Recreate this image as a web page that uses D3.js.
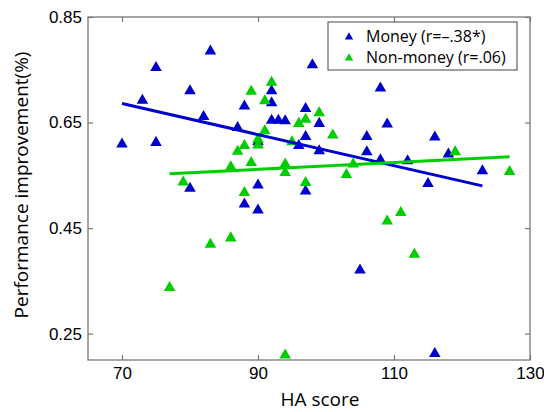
<!DOCTYPE html>
<html>
<head>
<meta charset="utf-8">
<script src="https://cdn.jsdelivr.net/npm/d3@7"></script>
<style>
  body { margin: 0; background: #fff; }
  svg { font-family: "Open Sans", sans-serif; }
</style>
</head>
<body>
<svg id="canvas" width="544" height="412"></svg>
<script>
// HA score and performance improvement
const moneyHA = [70, 73, 75, 75, 80, 80, 82, 83, 87, 88, 88, 90, 90, 90, 92, 92, 92, 93, 94, 96, 97, 97, 97, 98, 99, 99, 105, 106, 106, 108, 108, 109, 112, 115, 116, 116, 118, 123];
const moneyPerf = [0.611, 0.694, 0.756, 0.614, 0.712, 0.527, 0.663, 0.787, 0.642, 0.683, 0.497, 0.533, 0.486, 0.615, 0.712, 0.689, 0.656, 0.656, 0.655, 0.608, 0.678, 0.625, 0.522, 0.761, 0.650, 0.598, 0.372, 0.625, 0.596, 0.717, 0.581, 0.649, 0.579, 0.536, 0.624, 0.214, 0.592, 0.560];

const nonMoneyHA = [77, 79, 83, 86, 86, 87, 88, 88, 89, 89, 90, 90, 91, 91, 92, 94, 94, 94, 95, 96, 97, 97, 99, 101, 103, 104, 109, 111, 113, 119, 127];
const nonMoneyPerf = [0.339, 0.539, 0.421, 0.433, 0.568, 0.597, 0.608, 0.519, 0.711, 0.576, 0.620, 0.609, 0.693, 0.636, 0.728, 0.573, 0.557, 0.211, 0.615, 0.650, 0.658, 0.538, 0.670, 0.628, 0.553, 0.573, 0.465, 0.481, 0.402, 0.596, 0.559];

// fitted lines, end points
const moneyFit = [[70, 0.686], [123, 0.530]];
const nonMoneyFit = [[77, 0.553], [127, 0.585]];

const xTicks = [70, 90, 110, 130];
const yTicks = [0.25, 0.45, 0.65, 0.85];
const legendLabels = ["Money (r=\u2013.38*)", "Non-money (r=.06)"];

const blue = "#0000cc";
const green = "#00cc00";

let canvas = d3.select("#canvas");

let margin = { left: 88, right: 14, top: 17, bottom: 52 };
let width = 544 - margin.left - margin.right;
let height = 412 - margin.top - margin.bottom;

let x = d3.scaleLinear().domain([65, 130]).range([0, width]);
let y = d3.scaleLinear().domain([0.20, 0.85]).range([height, 0]);

let g = canvas.append("g")
    .attr("transform", "translate(" + margin.left + "," + margin.top + ")");

// axes, ticks pointing inside like matlab
let styleAxis = (sel, showText) => {
    sel.select(".domain").remove();
    sel.selectAll(".tick line").attr("stroke", "#777").attr("stroke-width", 1.2);
    sel.selectAll(".tick text")
        .attr("fill", "#000")
        .style("font-size", "17px")
        .style("display", showText ? null : "none");
};

g.append("g")
    .attr("transform", "translate(0," + height + ")")
    .call(d3.axisBottom(x).tickValues(xTicks).tickFormat(d3.format("d")).tickSize(-5).tickPadding(7))
    .call(sel => styleAxis(sel, true));

g.append("g")
    .call(d3.axisTop(x).tickValues(xTicks).tickSize(-5))
    .call(sel => styleAxis(sel, false));

g.append("g")
    .call(d3.axisLeft(y).tickValues(yTicks).tickFormat(d3.format(".2f")).tickSize(-5).tickPadding(6))
    .call(sel => styleAxis(sel, true));

g.append("g")
    .attr("transform", "translate(" + width + ",0)")
    .call(d3.axisRight(y).tickValues(yTicks).tickSize(-5))
    .call(sel => styleAxis(sel, false));

// box
g.append("rect")
    .attr("width", width)
    .attr("height", height)
    .attr("fill", "none")
    .attr("stroke", "#777")
    .attr("stroke-width", 1.3);

let line = d3.line().x(d => x(d[0])).y(d => y(d[1]));

let triangle = d3.symbol().type(d3.symbolTriangle).size(58);

let drawSeries = (ha, perf, color) => {
    g.append("g")
        .selectAll("path")
        .data(ha.map((h, i) => [h, perf[i]]))
        .enter()
        .append("path")
        .attr("d", triangle)
        .attr("transform", d => "translate(" + x(d[0]) + "," + (y(d[1]) + 1) + ")")
        .attr("fill", color);
};

drawSeries(moneyHA, moneyPerf, blue);
drawSeries(nonMoneyHA, nonMoneyPerf, green);

g.append("path")
    .attr("d", line(moneyFit))
    .attr("stroke", blue)
    .attr("stroke-width", 3)
    .attr("fill", "none");

g.append("path")
    .attr("d", line(nonMoneyFit))
    .attr("stroke", green)
    .attr("stroke-width", 3)
    .attr("fill", "none");

// axis titles
canvas.append("text")
    .attr("x", 320)
    .attr("y", 406)
    .attr("text-anchor", "middle")
    .style("font-size", "19px")
    .text("HA score");

canvas.append("text")
    .attr("transform", "translate(28,185) rotate(-90)")
    .attr("text-anchor", "middle")
    .style("font-size", "19px")
    .text("Performance improvement(%)");

// legend
let legend = canvas.append("g").attr("transform", "translate(328,22)");

legend.append("rect")
    .attr("width", 189)
    .attr("height", 48)
    .attr("fill", "#fff")
    .attr("stroke", "#444")
    .attr("stroke-width", 1);

let items = legend.selectAll("g.item")
    .data(legendLabels)
    .enter()
    .append("g")
    .attr("class", "item")
    .attr("transform", (d, i) => "translate(0," + (14 + i * 21) + ")");

items.append("path")
    .attr("d", d3.symbol().type(d3.symbolTriangle).size(30))
    .attr("transform", "translate(21,1)")
    .attr("fill", (d, i) => i === 0 ? blue : green);

items.append("text")
    .attr("x", 38)
    .attr("dy", "0.35em")
    .style("font-size", "16px")
    .text(d => d);
</script>
</body>
</html>
